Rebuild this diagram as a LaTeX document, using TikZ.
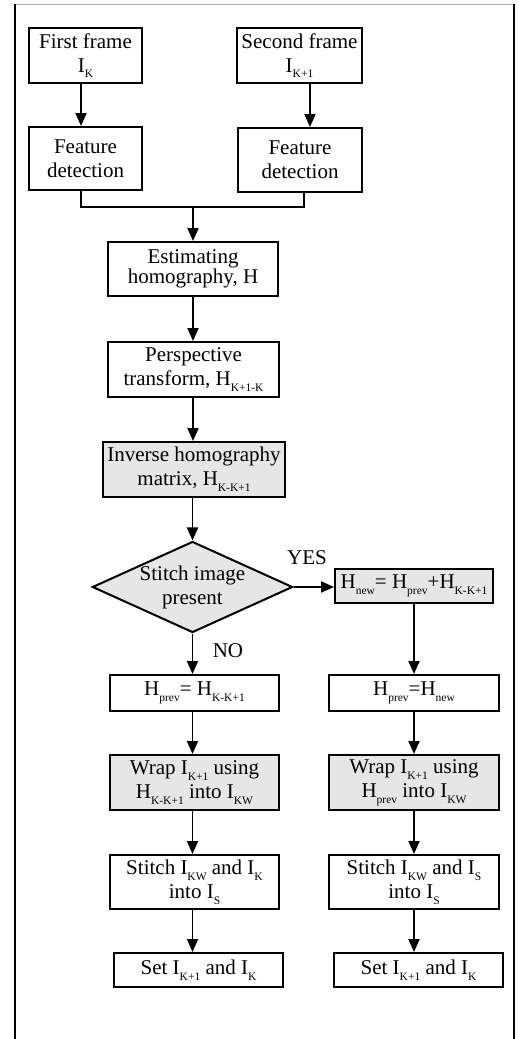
\documentclass[tikz,border=0pt]{standalone}
\usepackage{fontspec}
\setmainfont{Liberation Serif}
\usetikzlibrary{arrows.meta,shapes.geometric}
\definecolor{boxgray}{RGB}{230,230,230}
\definecolor{framegray}{RGB}{170,170,170}
\newcommand{\lo}[1]{\raisebox{-0.6ex}{\fontsize{11.5}{11.5}\selectfont #1}}
\tikzset{
  box/.style={draw=black, line width=2pt, fill=white, align=center, inner sep=0pt,
    font=\fontsize{21}{24}\selectfont},
  gbox/.style={box, fill=boxgray},
  arr/.style={line width=1.9pt, -{Triangle[width=11pt,length=13pt]}},
  ln/.style={line width=1.9pt},
  lab/.style={font=\fontsize{21}{24}\selectfont, inner sep=0pt}
}
\begin{document}
\begin{tikzpicture}[x=1pt,y=-1pt]
\useasboundingbox (0,0) rectangle (519,1039);
% frame
\draw[framegray, line width=0.9pt] (15,4) -- (514,4);
\draw[line width=2pt] (15,4) -- (15,1039);
\draw[line width=2pt] (514,4) -- (514,1039);
% nodes
\node[box, minimum width=113pt, minimum height=55pt] (f1) at (85.5,55.5) {First frame\\I\lo{K}};
\node[box, minimum width=125pt, minimum height=55pt] (f2) at (299.5,55.5) {Second frame\\I\lo{K+1}};
\node[box, minimum width=113pt, minimum height=63pt] (d1) at (85.5,158.5) {Feature\\detection};
\node[box, minimum width=124pt, minimum height=64pt] (d2) at (300,160) {Feature\\detection};
\node[box, minimum width=170pt, minimum height=54pt, font=\fontsize{21}{18}\selectfont] (est) at (193,269) {Estimating\\homography, H};
\node[box, minimum width=171pt, minimum height=55pt] (per) at (193.5,369.5) {Perspective\\transform, H\lo{K+1-K}};
\node[gbox, minimum width=182pt, minimum height=55pt] (inv) at (194,469.5) {Inverse homography\\matrix, H\lo{K-K+1}};
\node[gbox, shape=diamond, aspect=2.2, minimum width=199pt, minimum height=90pt] (dia) at (192.5,587) {Stitch image\\present};
\node[gbox, minimum width=158pt, minimum height=34pt] (hnew) at (414,586) {H\lo{new}= H\lo{prev}+H\lo{K-K+1}};
\node[box, minimum width=169pt, minimum height=36pt] (p1) at (194.5,693) {H\lo{prev}= H\lo{K-K+1}};
\node[box, minimum width=170pt, minimum height=36pt] (p2) at (414,693) {H\lo{prev}=H\lo{new}};
\node[gbox, minimum width=169pt, minimum height=55pt] (w1) at (194.5,782.5) {Wrap I\lo{K+1} using\\H\lo{K-K+1} into I\lo{KW}};
\node[gbox, minimum width=170pt, minimum height=55pt] (w2) at (414,782.5) {Wrap I\lo{K+1} using\\H\lo{prev} into I\lo{KW}};
\node[box, minimum width=169pt, minimum height=54pt] (s1) at (194.5,882) {Stitch I\lo{KW} and I\lo{K}\\into I\lo{S}};
\node[box, minimum width=170pt, minimum height=54pt] (s2) at (414,882) {Stitch I\lo{KW} and I\lo{S}\\into I\lo{S}};
\node[box, minimum width=169pt, minimum height=34pt] (t1) at (198.5,970) {Set I\lo{K+1} and I\lo{K}};
\node[box, minimum width=169pt, minimum height=34pt] (t2) at (418.5,970) {Set I\lo{K+1} and I\lo{K}};
% labels
\node[lab] (yes) at (307,558) {YES};
\node[lab] (no) at (228,651) {NO};
% connectors
\coordinate (c1) at (81,0);
\coordinate (c2) at (310,0);
\coordinate (c3) at (304,0);
\coordinate (jn) at (193,207);
\draw[arr] (f1.south -| c1) -- (d1.north -| c1);
\draw[arr] (f2.south -| c2) -- (d2.north -| c2);
\draw[ln] (d1.south -| c1) |- (jn) -| (d2.south -| c3);
\draw[arr] (jn) -- (est.north -| jn);
\draw[arr] (est.south -| jn) -- (per.north -| jn);
\draw[arr] (per.south -| jn) -- (inv.north -| jn);
\draw[arr] (inv.south -| dia.north) -- (dia.north);
\draw[arr] (dia.east) -- (hnew.west |- dia.east);
\draw[arr] (dia.south) -- (p1.north -| dia.south);
\draw[arr] (hnew.south) -- (p2.north);
\draw[arr] (p1.south -| dia.south) -- (w1.north -| dia.south);
\draw[arr] (p2.south) -- (w2.north);
\draw[arr] (w1.south -| dia.south) -- (s1.north -| dia.south);
\draw[arr] (w2.south) -- (s2.north);
\draw[arr] (s1.south -| dia.south) -- (t1.north -| dia.south);
\draw[arr] (s2.south) -- (t2.north -| s2.south);
\end{tikzpicture}
\end{document}
